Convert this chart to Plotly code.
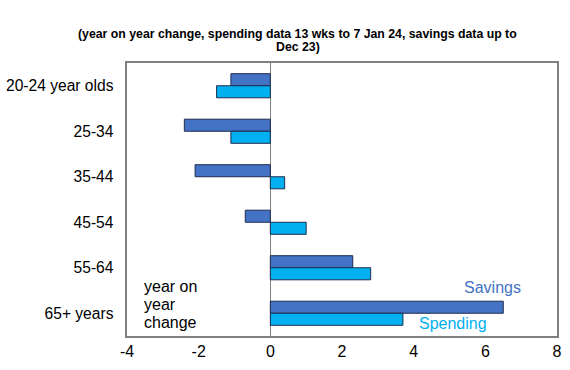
import plotly.graph_objects as go

categories = ["20-24 year olds", "25-34", "35-44", "45-54", "55-64", "65+ years"]
savings = [-1.1, -2.4, -2.1, -0.7, 2.3, 6.5]
spending = [-1.5, -1.1, 0.4, 1.0, 2.8, 3.7]
x_ticks = [-4, -2, 0, 2, 4, 6, 8]
x_tick_text = ["-4", "-2", "0", "2", "4", "6", "8"]

FONT = "Liberation Sans, Arial, sans-serif"
SAV_C = "#4472C4"
SPD_C = "#00B0F0"

fig = go.Figure()
fig.add_trace(go.Bar(y=categories, x=savings, orientation="h", name="Savings",
                     marker=dict(color=SAV_C, line=dict(color="#1f2d4d", width=1))))
fig.add_trace(go.Bar(y=categories, x=spending, orientation="h", name="Spending",
                     marker=dict(color=SPD_C, line=dict(color="#1f2d4d", width=1))))

fig.update_layout(
    template="none",
    width=570, height=370,
    barmode="group", bargap=0.47, bargroupgap=0,
    showlegend=False,
    plot_bgcolor="white", paper_bgcolor="white",
    margin=dict(l=127, r=13, t=63, b=34, pad=0),
    font=dict(family=FONT, size=16, color="black"),
    xaxis=dict(range=[-4, 8], tickvals=x_ticks, ticktext=x_tick_text, ticks="",
               showgrid=False, automargin=False,
               zeroline=True, zerolinecolor="#808080", zerolinewidth=1,
               showline=True, linecolor="#808080", linewidth=1.5, mirror=True,
               tickfont=dict(size=16)),
    yaxis=dict(range=[5.5, -0.5], showgrid=False, ticks="", automargin=False,
               zeroline=False,
               showline=True, linecolor="#808080", linewidth=1.5, mirror=True,
               tickfont=dict(size=15.6), ticksuffix="  "),
)

title_lines = ["(year on year change, spending data 13 wks to 7 Jan 24, savings data up to", "Dec 23)"]
title_y_px = [34, 47]
for line, ypx in zip(title_lines, title_y_px):
    fig.add_annotation(x=(297.5 - 127) / 430, y=(336 - ypx) / 273, xref="paper", yref="paper",
                       text="<b>" + line + "</b>", showarrow=False,
                       xanchor="center", yanchor="middle",
                       font=dict(family=FONT, size=12.3, color="black"))

note_lines = ["year on", "year", "change"]
note_y_px = [286, 304, 322]
for line, ypx in zip(note_lines, note_y_px):
    fig.add_annotation(x=(142 - 127) / 430, y=(336 - ypx) / 273, xref="paper", yref="paper",
                       text=line, showarrow=False, xanchor="left", yanchor="middle", align="left",
                       font=dict(family=FONT, size=16, color="black"))

fig.add_annotation(x=(492 - 127) / 430, y=(336 - 287) / 273, xref="paper", yref="paper",
                   text="Savings", showarrow=False, xanchor="center", yanchor="middle",
                   font=dict(family=FONT, size=16, color=SAV_C))
fig.add_annotation(x=(453 - 127) / 430, y=(336 - 323) / 273, xref="paper", yref="paper",
                   text="Spending", showarrow=False, xanchor="center", yanchor="middle",
                   font=dict(family=FONT, size=16, color=SPD_C))

fig.write_html("out.html", config={"displayModeBar": False},
               post_script="document.body.style.margin='0px';document.body.style.overflow='hidden';")
